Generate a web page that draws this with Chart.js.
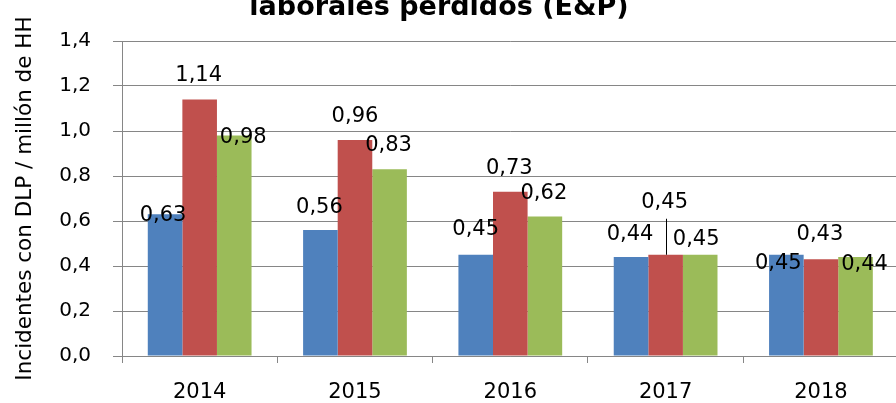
<!DOCTYPE html>
<html>
<head>
<meta charset="utf-8">
<script src="https://cdn.jsdelivr.net/npm/chart.js@4/dist/chart.umd.min.js"></script>
<style>
  html, body { margin: 0; padding: 0; background: #fff; overflow: hidden; width: 896px; height: 403px; }
  canvas { display: block; }
</style>
</head>
<body>
<canvas id="c" width="900" height="403"></canvas>
<script>
// ---- data ----
const categories = ['2014', '2015', '2016', '2017', '2018'];
const serie1 = [0.63, 0.56, 0.45, 0.44, 0.45];
const serie2 = [1.14, 0.96, 0.73, 0.45, 0.43];
const serie3 = [0.98, 0.83, 0.62, 0.45, 0.44];
const yTickLabels = ['0,0', '0,2', '0,4', '0,6', '0,8', '1,0', '1,2', '1,4'];
const titleText = 'laborales perdidos (E&P)';
const yTitleText = 'Incidentes con DLP / millón de HH';

// ---- style: label offsets (px) from bar top centre to label text centre ----
const labelOffsets = [
  [[-2, -1], [-1, -25], [0, -27], [-1, -25], [-8, 7]],
  [[-1, -26], [0, -26], [-1, -25], [-1, -54], [-1, -27]],
  [[9, 0], [-1, -26], [-1, -25], [-4, -17], [9, 5]]
];
const leaderLines = [{ ds: 1, idx: 3, from: -36 }];

const FONT = 'DejaVu Sans';
Chart.defaults.font.family = FONT;
Chart.defaults.color = '#000';
const GRID = '#868686';

const fmt = v => v.toFixed(2).replace('.', ',');

const labelPlugin = {
  id: 'barLabels',
  afterDatasetsDraw(chart) {
    const ctx = chart.ctx;
    ctx.save();
    ctx.font = '21px "' + FONT + '"';
    ctx.fillStyle = '#000';
    ctx.textAlign = 'center';
    ctx.textBaseline = 'alphabetic';
    chart.data.datasets.forEach((ds, di) => {
      const meta = chart.getDatasetMeta(di);
      meta.data.forEach((bar, i) => {
        const off = labelOffsets[di][i];
        const x = bar.x + off[0];
        const y = bar.y + off[1] + 7.6;
        ctx.fillText(fmt(ds.data[i]), x, y);
      });
    });
    ctx.strokeStyle = '#000';
    ctx.lineWidth = 1;
    leaderLines.forEach(l => {
      const bar = chart.getDatasetMeta(l.ds).data[l.idx];
      const x = Math.round(bar.x) + 0.5;
      ctx.beginPath();
      ctx.moveTo(x, bar.y + l.from);
      ctx.lineTo(x, bar.y);
      ctx.stroke();
    });
    ctx.restore();
  }
};

const titlePlugin = {
  id: 'cutTitle',
  afterDraw(chart) {
    const ctx = chart.ctx;
    ctx.save();
    ctx.font = 'bold 27px "' + FONT + '"';
    ctx.fillStyle = '#000';
    ctx.textAlign = 'center';
    ctx.textBaseline = 'alphabetic';
    ctx.fillText(titleText, 439, 15);
    ctx.restore();
  }
};

new Chart(document.getElementById('c'), {
  type: 'bar',
  data: {
    labels: categories,
    datasets: [
      { label: 'Serie 1', data: serie1, backgroundColor: '#4F81BD' },
      { label: 'Serie 2', data: serie2, backgroundColor: '#C0504D' },
      { label: 'Serie 3', data: serie3, backgroundColor: '#9BBB59' }
    ]
  },
  options: {
    responsive: false,
    animation: false,
    devicePixelRatio: 1,
    layout: { padding: { top: 41, right: 1.4, bottom: 0, left: 0 } },
    datasets: { bar: { categoryPercentage: 0.668, barPercentage: 1.0, borderWidth: 0 } },
    plugins: {
      legend: { display: false },
      tooltip: { enabled: false },
      title: { display: false }
    },
    scales: {
      x: {
        offset: true,
        grid: { offset: true, drawOnChartArea: false, drawTicks: true, tickLength: 7, color: GRID },
        border: { display: true, color: GRID },
        ticks: { font: { size: 21 }, color: '#000', padding: 17, maxRotation: 0 },
        afterFit(s) { s.height = 47; }
      },
      y: {
        min: 0, max: 1.4,
        ticks: {
          stepSize: 0.2,
          font: { size: 20 },
          color: '#000',
          padding: 22,
          callback: (v, i) => yTickLabels[i]
        },
        grid: { color: GRID, tickLength: 9, drawTicks: true },
        border: { display: true, color: GRID },
        title: {
          display: true,
          text: yTitleText,
          font: { size: 21.5 },
          color: '#000',
          padding: { top: 13, bottom: 0 }
        },
        afterFit(s) { s.width = 122; }
      }
    }
  },
  plugins: [labelPlugin, titlePlugin]
});
</script>
</body>
</html>
